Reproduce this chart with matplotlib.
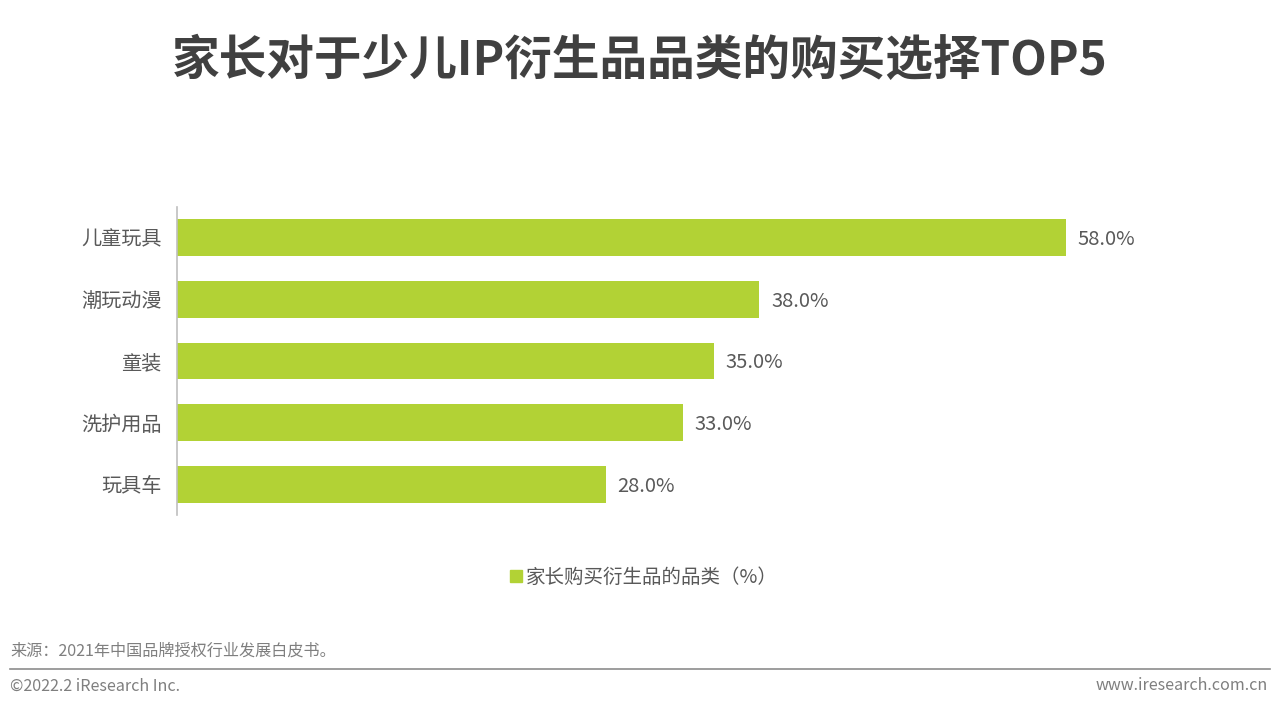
import matplotlib
matplotlib.use("Agg")
import matplotlib.pyplot as plt
from matplotlib.lines import Line2D

plt.rcParams['font.family'] = ['Noto Sans CJK SC', 'DejaVu Sans']

categories = ["儿童玩具", "潮玩动漫", "童装", "洗护用品", "玩具车"]
values = [58.0, 38.0, 35.0, 33.0, 28.0]
series_name = "家长购买衍生品的品类（%）"
title = "家长对于少儿IP衍生品品类的购买选择TOP5"
source = "来源：2021年中国品牌授权行业发展白皮书。"
copyright_txt = "©2022.2 iResearch Inc."
website = "www.iresearch.com.cn"

bar_color = "#B2D235"
text_color = "#595959"

fig = plt.figure(figsize=(12.8, 7.1), dpi=100)
ax = fig.add_axes([177/1280, 1-515/710, (1250-177)/1280, (515-207)/710])

pos = list(range(len(categories)))
bars = ax.barh(pos, values, height=0.6, color=bar_color, zorder=2)
ax.set_xlim(0, 70)
ax.set_ylim(len(categories)-0.5, -0.5)
ax.set_yticks(pos)
ax.set_yticklabels(categories, fontsize=14.5, color=text_color)
ax.tick_params(axis='y', length=0, pad=11)
ax.set_xticks([])
for s in ["top", "right", "bottom"]:
    ax.spines[s].set_visible(False)
ax.spines["left"].set_color("#BFBFBF")
ax.spines["left"].set_linewidth(1.2)

for p, v in zip(pos, values):
    ax.text(v + 0.75, p + 0.03, f"{v:.1f}%", va="center", ha="left", fontsize=14.5, color=text_color)

fig.text(640/1280, 1-61/710, title, ha="center", va="center", fontsize=34.3,
         fontweight="bold", color="#404040")

handle = Line2D([], [], marker="s", linestyle="none", markersize=8,
                markerfacecolor=bar_color, markeredgecolor=bar_color)
fig.legend([handle], [series_name], loc="center", bbox_to_anchor=(643/1280, 1-577/710),
           frameon=False, fontsize=14, handletextpad=0.1, labelcolor=text_color,
           handlelength=0.8)

fig.text(10/1280, 1-651/710, source, ha="left", va="center", fontsize=11.6, color="#7F7F7F")
fig.add_artist(Line2D([10/1280, 1270/1280], [1-669/710, 1-669/710], color="#8C8C8C", linewidth=1.2))
fig.text(10/1280, 1-686/710, copyright_txt, ha="left", va="center", fontsize=11.6, color="#7F7F7F")
fig.text(1268/1280, 1-686/710, website, ha="right", va="center", fontsize=11.6, color="#7F7F7F")

fig.savefig("out.png", dpi=100)
